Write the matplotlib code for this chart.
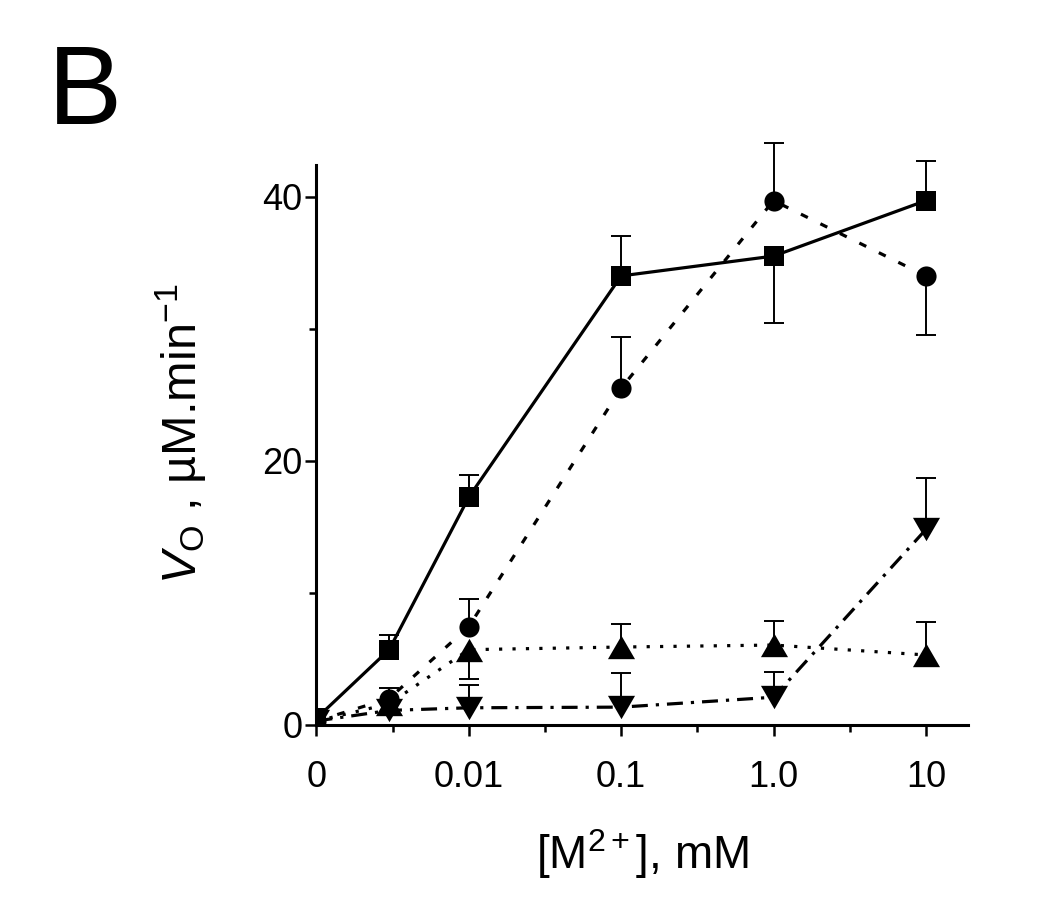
import numpy as np
import matplotlib
matplotlib.use('Agg')
import matplotlib.pyplot as plt

plt.rcParams['font.family'] = ['Liberation Sans', 'DejaVu Sans']
plt.rcParams['mathtext.fontset'] = 'custom'
plt.rcParams['mathtext.rm'] = 'Liberation Sans'
plt.rcParams['mathtext.it'] = 'Liberation Sans:italic'

# concentracion de metal (mM); 0 se dibuja una decada antes de 0.01
conc = np.array([0, 0.003, 0.01, 0.1, 1.0, 10])

# cuadrados, linea continua
sq = np.array([0.5, 5.7, 17.25, 34.0, 35.5, 39.7])
sq_up = np.array([0, 1.1, 1.65, 3.0, 0, 3.0])
sq_dn = np.array([0, 0, 0, 0, 5.1, 0])

# circulos, linea de trazos
ci = np.array([0.3, 2.0, 7.45, 25.5, 39.7, 34.0])
ci_up = np.array([0, 0.8, 2.05, 3.9, 4.4, 0])
ci_dn = np.array([0, 0, 0, 0, 0, 4.5])

# triangulos hacia arriba, linea punteada
tu = np.array([0.3, 1.6, 5.7, 5.9, 6.05, 5.3])
tu_up = np.array([0, 0, 0, 1.75, 1.85, 2.5])
tu_dn = np.array([0, 0, 2.2, 0, 0, 0])

# triangulos hacia abajo, linea punto-raya
td = np.array([0.3, 1.1, 1.3, 1.35, 2.1, 14.8])
td_up = np.array([0, 0, 1.7, 2.55, 1.9, 3.9])
td_dn = np.array([0, 0, 0, 0, 0, 0])

xticks = [0, 0.01, 0.1, 1.0, 10]
xticklabels = ['0', '0.01', '0.1', '1.0', '10']
xminor = [10**-2.5, 10**-1.5, 10**-0.5, 10**0.5]

tri_up = [(-1.16, -1), (1.16, -1), (0, 1)]
tri_dn = [(-1.16, 1), (1.16, 1), (0, -1)]


def fwd(x):
    return np.log10(np.maximum(x, 1e-3))


def inv(y):
    return 10**y


fig = plt.figure(figsize=(10.5, 8.97), dpi=100)
ax = fig.add_axes([0.3014, 0.1918, 0.6205, 0.6243])
ax.set_xscale('function', functions=(fwd, inv))

series = [
    (td, td_up, td_dn, tri_dn, 19.5, (0, (5, 2.5, 1, 2.5))),
    (tu, tu_up, tu_dn, tri_up, 19.5, (0, (1, 3.2))),
    (ci, ci_up, ci_dn, 'o', 14.5, (0, (2.4, 4.4))),
    (sq, sq_up, sq_dn, 's', 14.5, '-'),
]

for y, up, dn, mk, ms, ls in series:
    eb = ax.errorbar(conc, y, yerr=[dn, up], fmt='none', ecolor='black',
                     elinewidth=1.4, capsize=0, zorder=2)
    for c in eb.lines[2]:
        c.set_clip_on(False)
    m = up > 0
    ax.plot(conc[m], (y + up)[m], ls='none', marker='_', ms=14, mew=1.4,
            color='black', zorder=2, clip_on=False)
    m = dn > 0
    ax.plot(conc[m], (y - dn)[m], ls='none', marker='_', ms=14, mew=1.4,
            color='black', zorder=2, clip_on=False)
    ax.plot(conc, y, color='black', lw=2.3, ls=ls, marker=mk, ms=ms,
            mfc='black', mec='black', mew=0, zorder=3)

ax.set_xlim(0, 18.9)
ax.set_ylim(0, 42.4)

ax.set_xticks(xticks)
ax.set_xticklabels(xticklabels)
ax.set_xticks(xminor, minor=True)
ax.set_yticks([0, 20, 40])
ax.set_yticks([10, 30], minor=True)

for s in ['top', 'right']:
    ax.spines[s].set_visible(False)
for s in ['left', 'bottom']:
    ax.spines[s].set_linewidth(2.2)

ax.tick_params(axis='both', which='major', length=8, width=1.8,
               labelsize=26, direction='out')
ax.tick_params(axis='both', which='minor', length=5, width=1.8,
               direction='out')
ax.tick_params(axis='x', which='major', pad=17)
ax.tick_params(axis='y', which='major', pad=2)

ax.set_ylabel(r'$\mathit{V}_{\mathrm{O}}$ , µM.min$^{-1}$', fontsize=35)
ax.yaxis.set_label_coords(-0.165, 0.52)
ax.set_xlabel(r'[M$^{2+}$], mM', fontsize=33)
ax.xaxis.set_label_coords(0.5, -0.182)

fig.text(0.046, 0.862, 'B', fontsize=80)

fig.savefig('out.png', dpi=100)
